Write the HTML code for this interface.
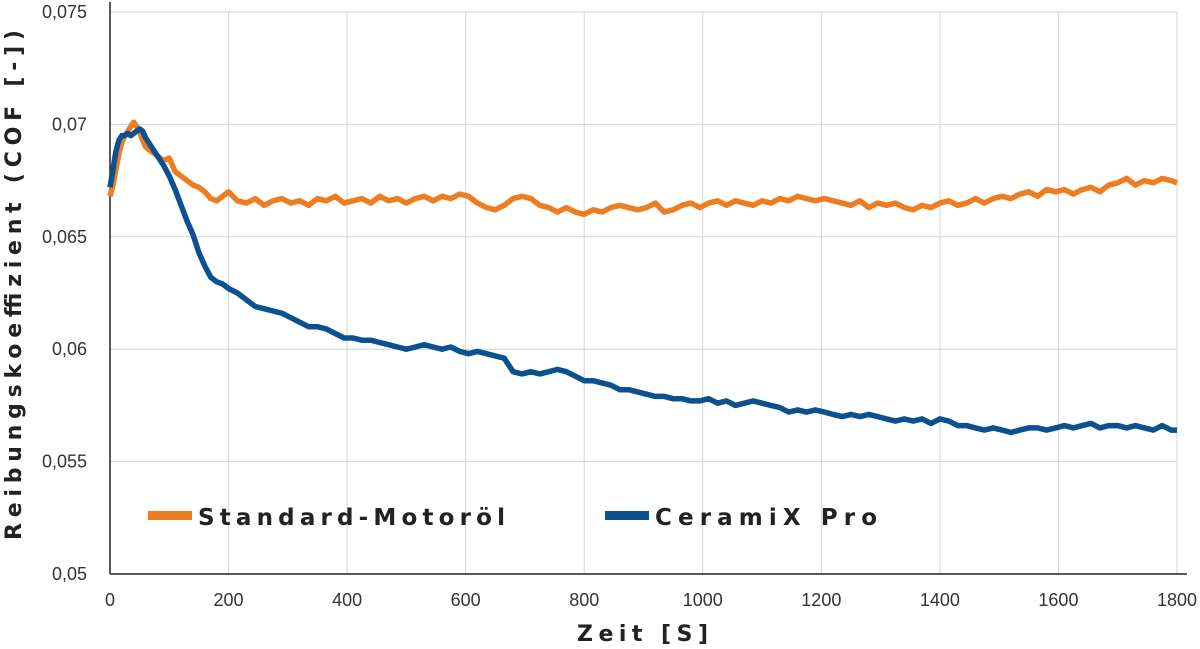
<!DOCTYPE html>
<html><head><meta charset="utf-8"><style>
body{margin:0;background:#fff}
svg{display:block;font-family:"Liberation Sans",sans-serif}
.bold{font-family:"DejaVu Sans","Liberation Sans",sans-serif;font-weight:bold}
</style></head><body>
<svg id="c" width="1200" height="649"></svg>
<script>
const xTicks=[0,200,400,600,800,1000,1200,1400,1600,1800];
const yTicks=[0.05,0.055,0.06,0.065,0.07,0.075];
const yTickLabels=["0,05","0,055","0,06","0,065","0,07","0,075"];
const timeS=[0,5,10,15,20,25,30,35,40,45,50,55,60,70,80,90,100,110,120,130,140,150,160,170,180,190,200,215,230,245,260,275,290,305,320,335,350,365,380,395,410,425,440,455,470,485,500,515,530,545,560,575,590,605,620,635,650,665,680,695,710,725,740,755,770,785,800,815,830,845,860,875,890,905,920,935,950,965,980,995,1010,1025,1040,1055,1070,1085,1100,1115,1130,1145,1160,1175,1190,1205,1220,1235,1250,1265,1280,1295,1310,1325,1340,1355,1370,1385,1400,1415,1430,1445,1460,1475,1490,1505,1520,1535,1550,1565,1580,1595,1610,1625,1640,1655,1670,1685,1700,1715,1730,1745,1760,1775,1790,1800];
const standardOil=[0.0668,0.0673,0.0680,0.0687,0.0692,0.0695,0.0697,0.0699,0.0701,0.0699,0.0697,0.0693,0.0690,0.0688,0.0686,0.0684,0.0685,0.0679,0.0677,0.0675,0.0673,0.0672,0.0670,0.0667,0.0666,0.0668,0.0670,0.0666,0.0665,0.0667,0.0664,0.0666,0.0667,0.0665,0.0666,0.0664,0.0667,0.0666,0.0668,0.0665,0.0666,0.0667,0.0665,0.0668,0.0666,0.0667,0.0665,0.0667,0.0668,0.0666,0.0668,0.0667,0.0669,0.0668,0.0665,0.0663,0.0662,0.0664,0.0667,0.0668,0.0667,0.0664,0.0663,0.0661,0.0663,0.0661,0.0660,0.0662,0.0661,0.0663,0.0664,0.0663,0.0662,0.0663,0.0665,0.0661,0.0662,0.0664,0.0665,0.0663,0.0665,0.0666,0.0664,0.0666,0.0665,0.0664,0.0666,0.0665,0.0667,0.0666,0.0668,0.0667,0.0666,0.0667,0.0666,0.0665,0.0664,0.0666,0.0663,0.0665,0.0664,0.0665,0.0663,0.0662,0.0664,0.0663,0.0665,0.0666,0.0664,0.0665,0.0667,0.0665,0.0667,0.0668,0.0667,0.0669,0.0670,0.0668,0.0671,0.0670,0.0671,0.0669,0.0671,0.0672,0.0670,0.0673,0.0674,0.0676,0.0673,0.0675,0.0674,0.0676,0.0675,0.0674];
const ceramixPro=[0.0672,0.0680,0.0688,0.0693,0.0695,0.0695,0.0696,0.0695,0.0696,0.0697,0.0698,0.0697,0.0694,0.0690,0.0686,0.0682,0.0677,0.0671,0.0664,0.0657,0.0651,0.0643,0.0637,0.0632,0.0630,0.0629,0.0627,0.0625,0.0622,0.0619,0.0618,0.0617,0.0616,0.0614,0.0612,0.0610,0.0610,0.0609,0.0607,0.0605,0.0605,0.0604,0.0604,0.0603,0.0602,0.0601,0.0600,0.0601,0.0602,0.0601,0.0600,0.0601,0.0599,0.0598,0.0599,0.0598,0.0597,0.0596,0.0590,0.0589,0.0590,0.0589,0.0590,0.0591,0.0590,0.0588,0.0586,0.0586,0.0585,0.0584,0.0582,0.0582,0.0581,0.0580,0.0579,0.0579,0.0578,0.0578,0.0577,0.0577,0.0578,0.0576,0.0577,0.0575,0.0576,0.0577,0.0576,0.0575,0.0574,0.0572,0.0573,0.0572,0.0573,0.0572,0.0571,0.0570,0.0571,0.0570,0.0571,0.0570,0.0569,0.0568,0.0569,0.0568,0.0569,0.0567,0.0569,0.0568,0.0566,0.0566,0.0565,0.0564,0.0565,0.0564,0.0563,0.0564,0.0565,0.0565,0.0564,0.0565,0.0566,0.0565,0.0566,0.0567,0.0565,0.0566,0.0566,0.0565,0.0566,0.0565,0.0564,0.0566,0.0564,0.0564];
const legendLabels=["Standard-Motoröl","CeramiX Pro"];
const colors=["#ee7d22","#0b5190"];
const X0=110,X1=1177,Y0=574,Y1=12;
const sx=v=>X0+(v-0)/(1800-0)*(X1-X0);
const sy=v=>Y0-(v-0.05)/(0.075-0.05)*(Y0-Y1);
const svg=document.getElementById('c');const NS="http://www.w3.org/2000/svg";
function mk(t,a,txt){const e=document.createElementNS(NS,t);for(const k in a)e.setAttribute(k,a[k]);if(txt!==undefined)e.textContent=txt;svg.appendChild(e);return e;}
xTicks.forEach((t,i)=>{if(i>0){const g=mk('line',{x1:sx(t),x2:sx(t),y1:Y1,y2:Y0,stroke:'#d4d4d4','stroke-width':1});

}
const l=mk('text',{x:sx(t),y:606,'text-anchor':'middle','font-size':18,fill:'#333'},String(t));

});
yTicks.forEach((t,i)=>{if(i>0){const g=mk('line',{x1:X0,x2:X1,y1:sy(t),y2:sy(t),stroke:'#d4d4d4','stroke-width':1});

}
const l=mk('text',{x:87,y:sy(t)+6,'text-anchor':'end','font-size':18,fill:'#333'},yTickLabels[i]);

});
const ax=mk('line',{x1:X0,x2:X0,y1:Y1-10,y2:Y0,stroke:'#222','stroke-width':1.5});


const bx=mk('line',{x1:X0,x2:X1+10,y1:Y0,y2:Y0,stroke:'#222','stroke-width':1.5});


[standardOil,ceramixPro].forEach((s,i)=>{const d=s.map((v,j)=>(j?'L':'M')+sx(timeS[j]).toFixed(1)+','+sy(v).toFixed(1)).join('');
const p=mk('path',{d:d,fill:'none',stroke:colors[i],'stroke-width':5.5,'stroke-linejoin':'round'});

});
const lx=[148,605];
const lw=[307,222];
legendLabels.forEach((t,i)=>{const r=mk('rect',{x:lx[i],y:511,width:44,height:9,fill:colors[i]});


const l=mk('text',{x:lx[i]+50,y:525,'font-size':23,'class':'bold',fill:'#222',textLength:lw[i],lengthAdjust:'spacing'},t);

});
const xt=mk('text',{x:577,y:641,'font-size':22,'class':'bold',fill:'#222',textLength:131,lengthAdjust:'spacing'},'Zeit [S]');


const yt=mk('text',{x:-255,y:0,'font-size':22,'class':'bold',fill:'#222',textLength:510,lengthAdjust:'spacing',transform:'translate(21,285) rotate(-90)'},'Reibungskoeffizient (COF [-])');


</script>
</body></html>
